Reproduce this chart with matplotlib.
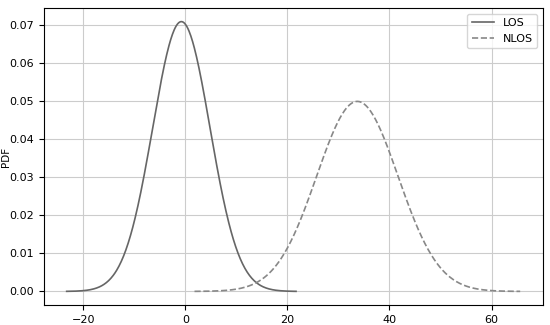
import numpy as np
import matplotlib
matplotlib.use("Agg")
import matplotlib.pyplot as plt

# Distribution parameters (Gaussian PDFs)
series_names = ["LOS", "NLOS"]
means = [-0.8, 33.7]
sigmas = [5.62, 7.98]
colors = ["#666666", "#888888"]
styles = ["-", "--"]

plt.rcParams['font.size'] = 8
fig, ax = plt.subplots(figsize=(5.5, 3.25), dpi=100)
for name, mu, sd, c, ls in zip(series_names, means, sigmas, colors, styles):
    x = np.linspace(mu - 4 * sd, mu + 4 * sd, 400)
    y = np.exp(-0.5 * ((x - mu) / sd) ** 2) / (sd * np.sqrt(2 * np.pi))
    ax.plot(x, y, color=c, linestyle=ls, linewidth=1.2, label=name)

ax.set_ylabel("PDF", fontsize=7.5)
ax.yaxis.set_label_coords(-0.066, 0.5)
ax.set_xticks([-20, 0, 20, 40, 60])
ax.grid(True, color="#cccccc", linewidth=0.8)
ax.legend(loc="upper right", fontsize=8)
fig.subplots_adjust(left=0.08, right=0.987, top=0.975, bottom=0.062)
fig.savefig("out.png")
